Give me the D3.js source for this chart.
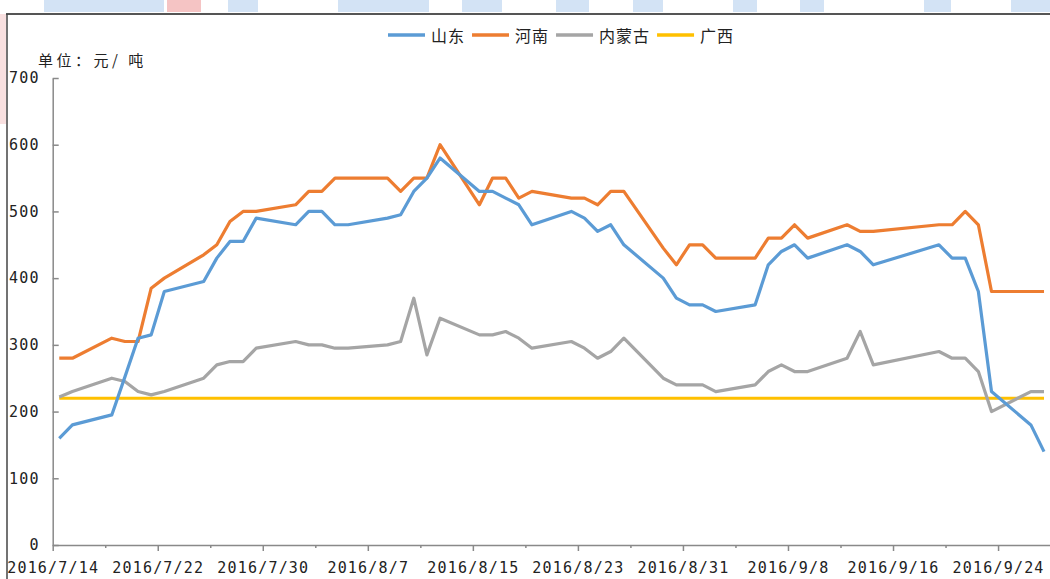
<!DOCTYPE html>
<html>
<head>
<meta charset="utf-8">
<script src="https://cdn.jsdelivr.net/npm/d3@7"></script>
<style>
  body { margin: 0; background: #fff; }
  svg { display: block; }
  .tick text { font-family: "DejaVu Sans Mono", monospace; font-size: 15px; fill: #222; letter-spacing: 1.2px; }
  .cjk { font-family: "Noto Sans CJK SC", sans-serif; fill: #222; }
</style>
</head>
<body>
<div id="chart"></div>
<script>
// trading days (9/15-9/16 holiday missing)
const dates = [
  "2016-07-14","2016-07-15","2016-07-18","2016-07-19","2016-07-20","2016-07-21","2016-07-22",
  "2016-07-25","2016-07-26","2016-07-27","2016-07-28","2016-07-29",
  "2016-08-01","2016-08-02","2016-08-03","2016-08-04","2016-08-05","2016-08-08","2016-08-09",
  "2016-08-10","2016-08-11","2016-08-12","2016-08-15","2016-08-16","2016-08-17","2016-08-18",
  "2016-08-19","2016-08-22","2016-08-23","2016-08-24","2016-08-25","2016-08-26","2016-08-29",
  "2016-08-30","2016-08-31",
  "2016-09-01","2016-09-02","2016-09-05","2016-09-06","2016-09-07","2016-09-08","2016-09-09",
  "2016-09-12","2016-09-13","2016-09-14","2016-09-19","2016-09-20","2016-09-21","2016-09-22",
  "2016-09-23","2016-09-26","2016-09-27"
];

const shandong = [
  160,180,195,252,310,315,380,395,430,455,455,490,
  480,500,500,480,480,490,495,530,550,580,530,530,520,510,480,500,490,470,480,450,400,370,360,
  360,350,360,420,440,450,430,450,440,420,450,430,430,380,230,180,140
];
const henan = [
  280,280,310,305,305,385,400,435,450,485,500,500,
  510,530,530,550,550,550,530,550,550,600,510,550,550,520,530,520,520,510,530,530,445,420,450,
  450,430,430,460,460,480,460,480,470,470,480,480,500,480,380,380,380
];
const neimenggu = [
  222,230,250,245,230,225,230,250,270,275,275,295,
  305,300,300,295,295,300,305,370,285,340,315,315,320,310,295,305,295,280,290,310,250,240,240,
  240,230,240,260,270,260,260,280,320,270,290,280,280,260,200,230,230
];
const guangxi = dates.map(() => 220);

const seriesNames = ["山东", "河南", "内蒙古", "广西"];
const seriesValues = [shandong, henan, neimenggu, guangxi];
const colors = ["#5B9BD5", "#ED7D31", "#A5A5A5", "#FFC000"];
const yTicks = [0, 100, 200, 300, 400, 500, 600, 700];
const unitLabel = "单位：元/ 吨";

const W = 1050, H = 579;
const svg = d3.select("#chart").append("svg")
  .attr("width", W).attr("height", H);

// faint header remnants above the frame
const deco = [[44,120,"#d3e3f5"],[167,34,"#f5c4c4"],[228,30,"#d3e3f5"],[338,91,"#d3e3f5"],
  [462,40,"#d3e3f5"],[556,33,"#d3e3f5"],[633,30,"#d3e3f5"],[733,24,"#d3e3f5"],
  [800,24,"#d3e3f5"],[924,27,"#d3e3f5"],[1011,39,"#d3e3f5"]];
svg.selectAll("rect.deco").data(deco).enter().append("rect")
  .attr("class", "deco")
  .attr("x", d => d[0]).attr("y", 0).attr("width", d => d[1]).attr("height", 12)
  .attr("fill", d => d[2]);
svg.append("rect").attr("x", 0).attr("y", 14).attr("width", 6).attr("height", 110)
  .attr("fill", "#f9e0e0");

// frame
svg.append("line").attr("x1", 6).attr("x2", W).attr("y1", 14).attr("y2", 14)
  .attr("stroke", "#555").attr("stroke-width", 2);
svg.append("line").attr("x1", 7).attr("x2", 7).attr("y1", 14).attr("y2", H)
  .attr("stroke", "#444").attr("stroke-width", 1.5);

const parse = d3.utcParse("%Y-%m-%d");
const t0 = parse("2016-07-14");
const t1 = d3.utcDay.offset(t0, 76);

const x = d3.scaleUtc().domain([t0, t1]).range([52.7, 52.7 + 76 * 13.13]);
const y = d3.scaleLinear().domain([0, 700]).range([545, 78]);

// x axis
const tickDates = d3.utcDay.range(t0, d3.utcDay.offset(t1, 1), 4);
const fmt = d => `${d.getUTCFullYear()}/${d.getUTCMonth() + 1}/${d.getUTCDate()}`;
const xAxis = svg.append("g")
  .attr("transform", "translate(0,545)")
  .call(d3.axisBottom(x).tickValues(tickDates).tickSizeOuter(0).tickSizeInner(6).tickPadding(11)
    .tickFormat((d, i) => i % 2 === 0 ? fmt(d) : ""));
xAxis.selectAll(".tick line").attr("y2", (d, i) => i % 2 === 0 ? 6 : 3);

// y axis
svg.append("g")
  .attr("transform", "translate(52.7,0)")
  .call(d3.axisLeft(y).tickValues(yTicks).tickSizeOuter(0).tickSizeInner(-6).tickPadding(13));

svg.selectAll(".domain, .tick line").attr("stroke", "#898989").attr("stroke-width", 1.5);

// unit
svg.append("text").attr("class", "cjk")
  .attr("x", 38).attr("y", 59).attr("dominant-baseline", "central")
  .style("font-size", "15px")
  .style("letter-spacing", "3.5px")
  .text(unitLabel);

// lines
const line = d3.line()
  .x((d, i) => x(d3.utcHour.offset(parse(dates[i]), 12)))
  .y(d => y(d));

const drawOrder = [3, 2, 1, 0];
drawOrder.forEach(k => {
  svg.append("path")
    .datum(seriesValues[k])
    .attr("fill", "none")
    .attr("stroke", colors[k])
    .attr("stroke-width", 3.2)
    .attr("stroke-linejoin", "round")
    .attr("d", line);
});

// legend
const legend = svg.append("g").attr("transform", "translate(388,35)");
let cx = 0;
seriesNames.forEach((name, i) => {
  legend.append("line")
    .attr("x1", cx).attr("x2", cx + 37).attr("y1", 0).attr("y2", 0)
    .attr("stroke", colors[i]).attr("stroke-width", 3.5);
  const t = legend.append("text").attr("class", "cjk")
    .attr("x", cx + 43).attr("y", 0)
    .attr("dominant-baseline", "central")
    .style("font-size", "16px")
    .style("letter-spacing", "1px")
    .text(name);
  cx += 43 + t.node().getComputedTextLength() + 7;
});
</script>
</body>
</html>
